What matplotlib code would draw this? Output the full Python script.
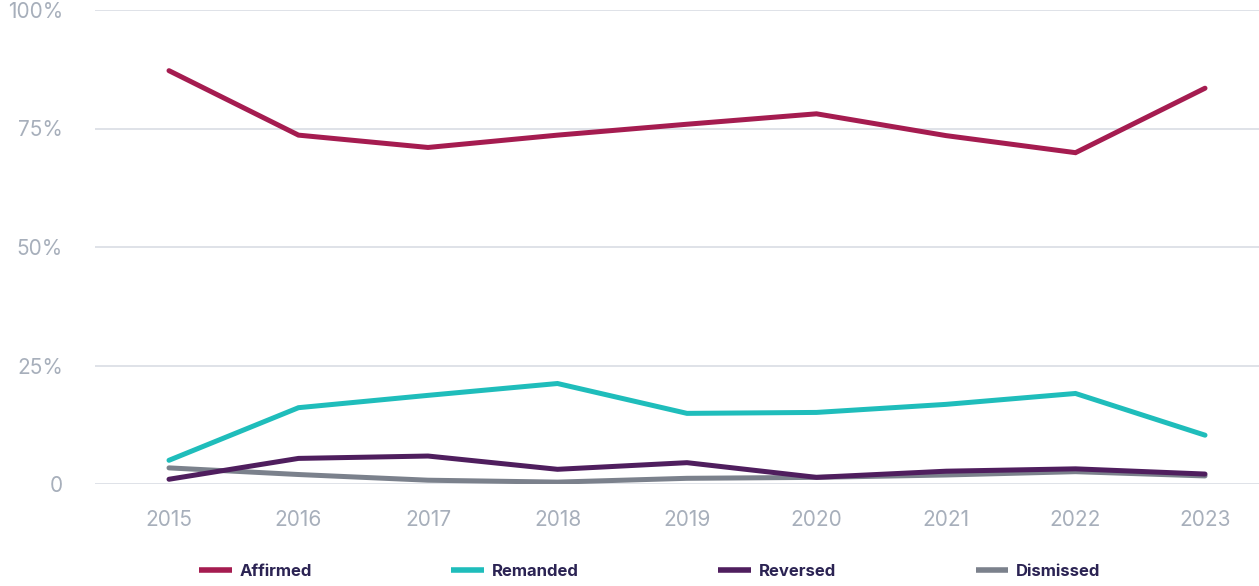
import matplotlib
matplotlib.use("Agg")
import matplotlib.pyplot as plt
from matplotlib.ticker import FixedLocator, FixedFormatter

years = [2015, 2016, 2017, 2018, 2019, 2020, 2021, 2022, 2023]
affirmed = [87.2, 73.6, 71.0, 73.6, 75.9, 78.1, 73.5, 69.9, 83.5]
remanded = [5.0, 16.1, 18.7, 21.2, 14.9, 15.1, 16.8, 19.1, 10.3]
reversed_ = [1.0, 5.4, 5.9, 3.1, 4.5, 1.4, 2.7, 3.2, 2.1]
dismissed = [3.4, 2.0, 0.8, 0.4, 1.2, 1.4, 1.9, 2.6, 1.7]

series_names = ["Affirmed", "Remanded", "Reversed", "Dismissed"]
series_vals = [affirmed, remanded, reversed_, dismissed]
colors = ["#a51c50", "#1fbdbb", "#4f1e5e", "#7b818c"]
zorders = [5, 4, 4, 3]

y_ticks = [0, 25, 50, 75, 100]
y_labels = ["0", "25%", "50%", "75%", "100%"]

plt.rcParams['font.family'] = ['Inter', 'DejaVu Sans']

W, H = 1259, 586
fig = plt.figure(figsize=(W / 100, H / 100), dpi=100)
ax = fig.add_axes([95 / W, 1 - 484 / H, (W - 95) / W, (484 - 10) / H])

handles = []
for name, vals, c, z in zip(series_names, series_vals, colors, zorders):
    h, = ax.plot(years, vals, color=c, lw=3.6, solid_capstyle='round',
                 solid_joinstyle='miter', zorder=z, label=name)
    handles.append(h)

ax.set_ylim(0, 100)
ax.set_xlim(2015 - 74 / 129.5, 2023 + 54 / 129.5)
ax.yaxis.set_major_locator(FixedLocator(y_ticks))
ax.yaxis.set_major_formatter(FixedFormatter(y_labels))
ax.set_xticks(years)
ax.set_xticklabels([str(y) for y in years])
ax.grid(axis='y', color='#d6dae1', lw=1.1, zorder=0)
ax.grid(axis='x', visible=False)
for s in ax.spines.values():
    s.set_visible(False)
ax.tick_params(axis='both', length=0, labelsize=15, labelcolor='#a7afbb')
ax.tick_params(axis='y', pad=23)
ax.tick_params(axis='x', pad=19)
for lab in ax.get_yticklabels():
    lab.set_horizontalalignment('right')

leg = fig.legend(handles=handles, labels=series_names, loc='center left',
                 bbox_to_anchor=(184 / W, 1 - 571 / H), ncol=4, frameon=False,
                 handlelength=1.95, handletextpad=0.5, columnspacing=8.35,
                 prop={'size': 12, 'weight': 'bold'})
for t in leg.get_texts():
    t.set_color('#2b2353')
for lh in leg.get_lines():
    lh.set_linewidth(4)
    lh.set_solid_capstyle('butt')

fig.savefig("out.png", dpi=100)
